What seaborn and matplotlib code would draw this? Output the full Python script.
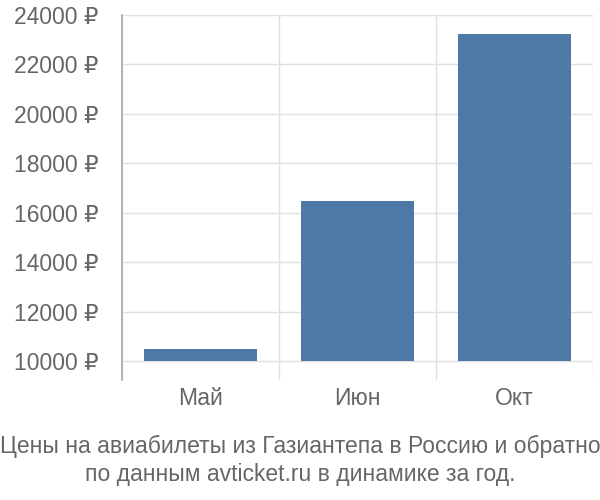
import matplotlib
matplotlib.use("Agg")
import matplotlib.pyplot as plt
import seaborn as sns
import pandas as pd

months = ["Май", "Июн", "Окт"]
prices = [10480, 16470, 23220]
base = 10000
y_ticks = [10000, 12000, 14000, 16000, 18000, 20000, 22000, 24000]
title_lines = ["Цены на авиабилеты из Газиантепа в Россию и обратно",
               "по данным avticket.ru в динамике за год."]

sns.set_style("white")
plt.rcParams['font.family'] = ['Liberation Sans', 'DejaVu Sans']

df = pd.DataFrame({"month": months, "price": prices})
df["above"] = df["price"] - base

fig = plt.figure(figsize=(6, 5), dpi=100)
ax = fig.add_axes([122 / 600, 1 - 380 / 500, 471 / 600, 365 / 500])

sns.barplot(data=df, x="month", y="above", color="#4e79a7", saturation=1,
            width=0.72, bottom=base, linewidth=0, ax=ax, zorder=3)

ax.set_ylim(9230, 24000)
ax.set_xlim(-0.5, 2.5)
ax.set_yticks(y_ticks)
ax.set_yticklabels([f"{v} ₽" for v in y_ticks])
ax.set_xticks(range(len(months)))
ax.set_xticklabels(months)
ax.set_xticks([-0.5, 0.5, 1.5, 2.5], minor=True)
ax.set_xlabel("")
ax.set_ylabel("")

ax.grid(axis="y", color="#e0e0e0", linewidth=1.0, zorder=0)
ax.grid(axis="x", which="minor", color="#e0e0e0", linewidth=1.0, zorder=0)
ax.grid(axis="x", which="major", visible=False)
ax.set_axisbelow(True)

ax.tick_params(axis="y", length=16, width=1.0, color="#e0e0e0", pad=1,
               labelsize=16.5, labelcolor="#666666")
ax.tick_params(axis="x", which="major", length=0, pad=5, labelsize=16.5,
               labelcolor="#666666")
ax.tick_params(axis="x", which="minor", length=0)

for side in ["top", "right", "bottom"]:
    ax.spines[side].set_visible(False)
ax.spines["left"].set_color("#aaaaaa")
ax.spines["left"].set_linewidth(1.2)

fig.text(0.5, 1 - 446 / 500, title_lines[0], ha="center", va="center",
         fontsize=16.5, color="#666666")
fig.text(0.5, 1 - 475 / 500, title_lines[1], ha="center", va="center",
         fontsize=16.5, color="#666666")

fig.savefig("out.png", dpi=100)
